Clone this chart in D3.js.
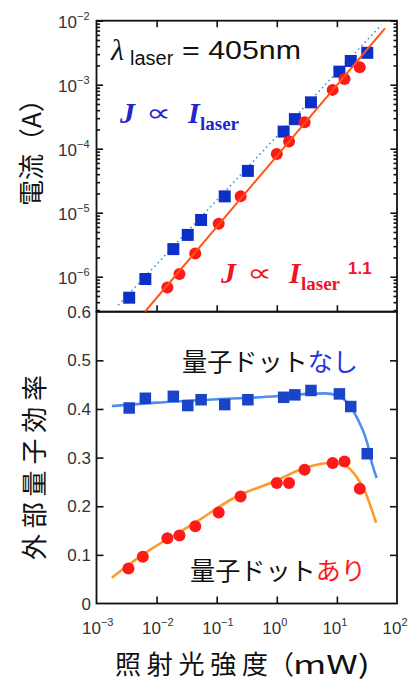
<!DOCTYPE html>
<html><head><meta charset="utf-8">
<script src="https://cdn.jsdelivr.net/npm/d3@7"></script>
<style>body{margin:0;background:#fff}svg{display:block}</style>
</head><body>
<svg id="c" width="411" height="682"></svg>
<script>
// ---- data ----
const powerBlue   = [0.0035, 0.0065, 0.019, 0.033, 0.055, 0.136, 0.33, 1.3, 2.0, 3.7, 11, 17, 32];
const currentBlue = [4.7e-7, 9.2e-7, 2.7e-6, 4.5e-6, 7.7e-6, 1.8e-5, 4.5e-5, 1.85e-4, 2.9e-4, 5.3e-4, 1.6e-3, 2.35e-3, 3.15e-3];
const eqeBlue     = [0.402, 0.422, 0.426, 0.407, 0.419, 0.409, 0.419, 0.424, 0.429, 0.438, 0.431, 0.405, 0.308];

const powerRed    = [0.0034, 0.0059, 0.0151, 0.024, 0.044, 0.108, 0.25, 1.0, 1.6, 2.9, 8.5, 13.4, 24];
const currentRed  = [null, null, 6.8e-7, 1.1e-6, 2.3e-6, 6.7e-6, 1.8e-5, 8.3e-5, 1.3e-4, 2.6e-4, 8.3e-4, 1.23e-3, 1.87e-3];
const eqeRed      = [0.072, 0.096, 0.134, 0.140, 0.159, 0.187, 0.220, 0.248, 0.248, 0.275, 0.289, 0.292, 0.236];

// fitted lines in the current panel (end points)
const fitLinearPower = [0.0023, 55];
const fitLinearCurrent = [3.6e-7, 8.6e-3];
const fitPowerPower = [0.0064, 63];
const fitPowerCurrent = [2.84e-7, 7.6e-3];

// guide curves in the efficiency panel
const curveBluePower = [0.0018, 0.01, 0.1, 1, 3.2, 6.3, 10, 16, 22, 32, 38, 46];
const curveBlueEqe   = [0.406, 0.413, 0.42, 0.426, 0.431, 0.432, 0.428, 0.408, 0.38, 0.33, 0.29, 0.258];
const curveRedPower  = [0.0018, 0.0063, 0.04, 0.2, 1, 2.8, 8, 14, 21, 30, 38, 45];
const curveRedEqe    = [0.053, 0.103, 0.163, 0.218, 0.253, 0.278, 0.289, 0.283, 0.261, 0.227, 0.193, 0.166];

// ticks
const xTicks = [1e-3, 1e-2, 1e-1, 1, 10, 100];
const xTickExp = ["\u22123", "\u22122", "\u22121", "0", "1", "2"];
const yTopTicks = [1e-2, 1e-3, 1e-4, 1e-5, 1e-6];
const yTopExp = ["\u22122", "\u22123", "\u22124", "\u22125", "\u22126"];
const yBotTicks = [0, 0.1, 0.2, 0.3, 0.4, 0.5, 0.6];
const yBotLabels = ["0", "0.1", "0.2", "0.3", "0.4", "0.5", "0.6"];

// ---- layout ----
const L = 96.5, R = 397, T = 20.7, M = 311.7, B = 603.5;
const svg = d3.select("#c");
svg.append("rect").attr("width", 411).attr("height", 682).attr("fill", "#fff");

const x = d3.scaleLog().domain([1e-3, 1e2]).range([L, R]);
const yT = d3.scaleLog().domain([2.84e-7, 1e-2]).range([M, T]);
const yB = d3.scaleLinear().domain([0, 0.6]).range([B, M]);

const minorTop = [];
for (let e = -7; e <= -3; e++) for (let m = 2; m <= 9; m++) {
  const v = m * Math.pow(10, e);
  if (v > 2.84e-7 && v < 1e-2) minorTop.push(v);
}

function ax(gen, tr, vals, size) {
  const g = svg.append("g").attr("transform", tr)
    .call(gen.tickValues(vals).tickSize(size).tickFormat(() => ""));
  g.select(".domain").remove();
  g.selectAll("line").attr("stroke", "#111").attr("stroke-width", 1.6);
  return g;
}
// top panel ticks
ax(d3.axisRight(yT), `translate(${L},0)`, yTopTicks, 6.5);
ax(d3.axisRight(yT), `translate(${L},0)`, minorTop, 3.5);
ax(d3.axisLeft(yT), `translate(${R},0)`, yTopTicks, 6.5);
ax(d3.axisLeft(yT), `translate(${R},0)`, minorTop, 3.5);
ax(d3.axisBottom(x), `translate(0,${T})`, xTicks.slice(1, 5), 6.5);
ax(d3.axisTop(x), `translate(0,${M})`, xTicks.slice(1, 5), 6.5);
// bottom panel ticks
ax(d3.axisRight(yB), `translate(${L},0)`, yBotTicks.slice(1, 6), 7);
ax(d3.axisLeft(yB), `translate(${R},0)`, yBotTicks.slice(1, 6), 7);
ax(d3.axisTop(x), `translate(0,${B})`, xTicks.slice(1, 5), 7);

// frames
svg.append("rect").attr("x", L).attr("y", T).attr("width", R - L).attr("height", M - T)
  .attr("fill", "none").attr("stroke", "#111").attr("stroke-width", 1.8);
svg.append("rect").attr("x", L).attr("y", M).attr("width", R - L).attr("height", B - M)
  .attr("fill", "none").attr("stroke", "#111").attr("stroke-width", 1.8);

// tick labels
const lblFont = "'Liberation Sans', Arial, sans-serif";
xTicks.forEach((t, i) => {
  const tx = svg.append("text").attr("x", x(t) - 14.5).attr("y", 634)
    .attr("font-family", lblFont).attr("font-size", 17).attr("fill", "#333").text("10");
  tx.append("tspan").attr("dy", -8.5).attr("font-size", 11).text(xTickExp[i]);
});
yTopTicks.forEach((t, i) => {
  const tx = svg.append("text").attr("x", 89.5).attr("y", yT(t) + 7.5).attr("text-anchor", "end")
    .attr("font-family", lblFont).attr("font-size", 17).attr("fill", "#333").text("10");
  tx.append("tspan").attr("dy", -8).attr("font-size", 11).text(yTopExp[i]);
});
yBotTicks.forEach((t, i) => {
  svg.append("text").attr("x", 91).attr("y", yB(t) + 6).attr("text-anchor", "end")
    .attr("font-family", lblFont).attr("font-size", 17).attr("fill", "#333").text(yBotLabels[i]);
});

// ---- top panel content ----
svg.append("clipPath").attr("id", "clipTop").append("rect")
  .attr("x", L).attr("y", T).attr("width", R - L).attr("height", M - T);
const topG = svg.append("g").attr("clip-path", "url(#clipTop)");

const lineT = d3.line().x(d => x(d[0])).y(d => yT(d[1]));
topG.append("path").datum(d3.zip(fitLinearPower, fitLinearCurrent)).attr("d", lineT)
  .attr("fill", "none").attr("stroke", "#3a9ad4").attr("stroke-width", 1.6)
  .attr("stroke-dasharray", "1.6,3.2");

const sqT = 12;
topG.selectAll(".sq").data(d3.zip(powerBlue, currentBlue)).join("rect")
  .attr("x", d => x(d[0]) - sqT / 2).attr("y", d => yT(d[1]) - sqT / 2)
  .attr("width", sqT).attr("height", sqT).attr("fill", "#0c2fc6");

topG.selectAll(".ci").data(d3.zip(powerRed, currentRed).filter(d => d[1] != null)).join("circle")
  .attr("cx", d => x(d[0])).attr("cy", d => yT(d[1])).attr("r", 6).attr("fill", "#ff1a1a");

topG.append("path").datum(d3.zip(fitPowerPower, fitPowerCurrent)).attr("d", lineT)
  .attr("fill", "none").attr("stroke", "#ff5414").attr("stroke-width", 2);

// ---- bottom panel content ----
const lineB = d3.line().x(d => x(d[0])).y(d => yB(d[1])).curve(d3.curveMonotoneX);
svg.append("path").datum(d3.zip(curveBluePower, curveBlueEqe)).attr("d", lineB)
  .attr("fill", "none").attr("stroke", "#4d8ff0").attr("stroke-width", 2.6);
svg.append("path").datum(d3.zip(curveRedPower, curveRedEqe)).attr("d", lineB)
  .attr("fill", "none").attr("stroke", "#ff9a28").attr("stroke-width", 2.6);

const sqB = 11.5;
svg.selectAll(".sqb").data(d3.zip(powerBlue, eqeBlue)).join("rect")
  .attr("x", d => x(d[0]) - sqB / 2).attr("y", d => yB(d[1]) - sqB / 2)
  .attr("width", sqB).attr("height", sqB).attr("fill", "#1a44c8");
svg.selectAll(".cib").data(d3.zip(powerRed, eqeRed)).join("circle")
  .attr("cx", d => x(d[0])).attr("cy", d => yB(d[1])).attr("r", 6).attr("fill", "#ff1a1a");

// ---- annotations ----
const serif = "'Liberation Serif', 'Times New Roman', serif";
svg.append("text").attr("x", 111).attr("y", 60).attr("font-family", serif).attr("font-style", "italic")
  .attr("font-size", 30).attr("fill", "#111").text("λ");
svg.append("text").attr("x", 130).attr("y", 65).attr("font-family", lblFont)
  .attr("font-size", 20).attr("fill", "#111").text("laser");
svg.append("text").attr("x", 182).attr("y", 59).attr("font-family", lblFont)
  .attr("font-size", 26).attr("fill", "#111").attr("textLength", 119)
  .attr("lengthAdjust", "spacingAndGlyphs").text("= 405nm");

function propText(x0, y0, color, exp) {
  svg.append("text").attr("x", x0).attr("y", y0).attr("font-family", serif)
    .attr("font-style", "italic").attr("font-weight", "bold").attr("font-size", 30)
    .attr("fill", color).text("J");
  svg.append("text").attr("x", x0 + 26).attr("y", y0 - 2).attr("font-family", "'DejaVu Sans', sans-serif")
    .attr("font-size", 24).attr("fill", color).attr("textLength", 25)
    .attr("lengthAdjust", "spacingAndGlyphs").text("∝");
  svg.append("text").attr("x", x0 + 68).attr("y", y0).attr("font-family", serif)
    .attr("font-style", "italic").attr("font-weight", "bold").attr("font-size", 30)
    .attr("fill", color).text("I");
  svg.append("text").attr("x", x0 + 80).attr("y", y0 + 7).attr("font-family", serif)
    .attr("font-weight", "bold").attr("font-size", 19).attr("fill", color).text("laser");
  if (exp) svg.append("text").attr("x", x0 + 127).attr("y", y0 - 9).attr("font-family", lblFont)
    .attr("font-weight", "bold").attr("font-size", 17).attr("fill", color).text(exp);
}
propText(120, 123, "#2424cc", null);
propText(221, 283, "#ee1428", "1.1");

const cjk = "'Noto Sans CJK JP', sans-serif";
const t1 = svg.append("text").attr("x", 182).attr("y", 371).attr("font-family", cjk)
  .attr("font-size", 25).attr("textLength", 176).attr("lengthAdjust", "spacingAndGlyphs");
t1.append("tspan").attr("fill", "#111").text("量子ドット");
t1.append("tspan").attr("fill", "#2536e0").text("なし");
const t2 = svg.append("text").attr("x", 190).attr("y", 580).attr("font-family", cjk)
  .attr("font-size", 25).attr("textLength", 176).attr("lengthAdjust", "spacingAndGlyphs");
t2.append("tspan").attr("fill", "#111").text("量子ドット");
t2.append("tspan").attr("fill", "#ff1a1a").text("あり");

// axis titles
svg.append("text").attr("x", 115).attr("y", 674).attr("font-family", cjk).attr("font-size", 26)
  .attr("fill", "#111").attr("textLength", 153).attr("lengthAdjust", "spacing").text("照射光強度");
svg.append("text").attr("x", 268).attr("y", 674).attr("font-family", cjk).attr("font-size", 26)
  .attr("fill", "#111").text("（");
svg.append("text").attr("x", 293).attr("y", 674).attr("font-family", cjk).attr("font-size", 26)
  .attr("fill", "#111").attr("textLength", 77).attr("lengthAdjust", "spacingAndGlyphs").text("mW)");
svg.append("text").attr("transform", "translate(41,206) rotate(-90)").attr("font-family", cjk)
  .attr("font-size", 26).attr("fill", "#111").text("電流（A）");
svg.append("text").attr("transform", "translate(43.5,467.5) rotate(-90)").attr("text-anchor", "middle")
  .attr("font-family", cjk).attr("font-size", 26).attr("fill", "#111")
  .attr("textLength", 185).attr("lengthAdjust", "spacing").text("外部量子効率");
</script>
</body></html>
